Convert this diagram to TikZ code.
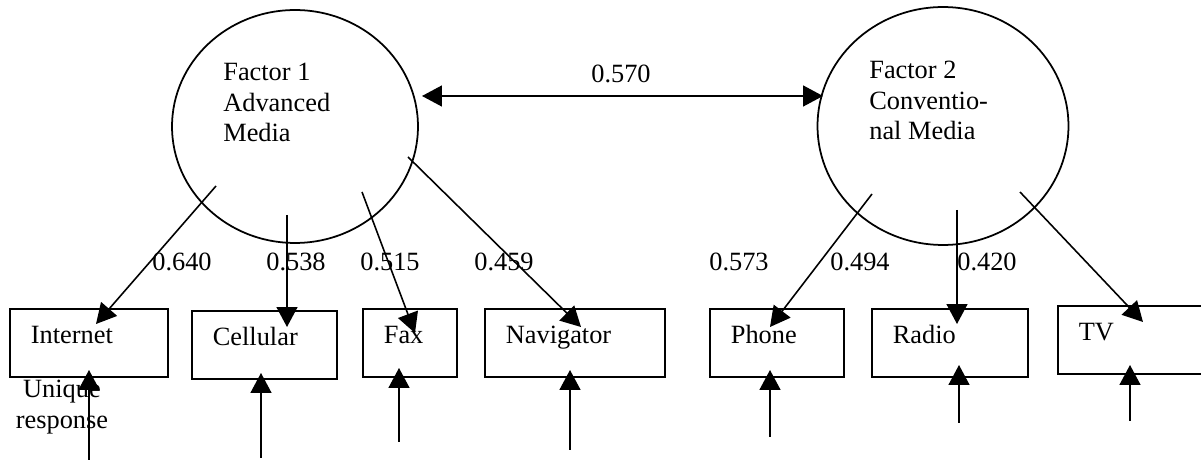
\documentclass[tikz,border=0pt]{standalone}
\usepackage{fontspec}
\setmainfont{Liberation Serif}
\usetikzlibrary{calc,arrows.meta,shapes.geometric}

\tikzset{
  every node/.style={font=\fontsize{15}{17.3}\selectfont, inner sep=0pt},
  factor/.style={draw, ellipse, line width=1pt},
  factortext/.style={anchor=north west, align=left},
  item/.style={draw, rectangle, line width=1pt, anchor=north west,
    inner xsep=0.42cm, inner ysep=0pt, text height=0.70cm, text depth=0.66cm, align=left},
  load/.style={line width=0.9pt, -{Triangle[length=0.4cm,width=0.42cm]}},
  corr/.style={line width=0.9pt, {Triangle[length=0.4cm,width=0.42cm]}-{Triangle[length=0.4cm,width=0.42cm]}},
}

\begin{document}
\begin{tikzpicture}[x=0.02cm, y=-0.02cm]
  \fill[white] (0,0) rectangle (1201,462);
  \useasboundingbox (0,0) rectangle (1201,462);

  % latent factors
  \node[factor, minimum width=4.92cm, minimum height=4.66cm] (f1) at (295,126.5) {};
  \node[factor, minimum width=5.02cm, minimum height=4.76cm] (f2) at (943,126) {};
  \node[factortext] (f1text) at (223,63) {Factor 1\\Advanced\\Media};
  \node[factortext] (f2text) at (869,61) {Factor 2\\Conventio-\\nal Media};

  % correlation between the factors
  \coordinate (c1) at (422,96);
  \coordinate (c2) at (823,96);
  \draw[corr] (c1) -- (c2);
  \node[anchor=base] (r12) at (621,83) {0.570};

  % observed items
  \node[item, text width=2.32cm] (internet) at (9,308) {Internet};
  \node[item, text width=2.06cm] (cellular) at (191,310) {Cellular};
  \node[item, text width=1.04cm] (fax) at (362,308) {Fax};
  \node[item, text width=2.76cm] (navigator) at (484,308) {Navigator};
  \node[item, text width=1.84cm] (phone) at (709,308) {Phone};
  \node[item, text width=2.28cm] (radio) at (871,308) {Radio};
  \node[item, text width=2.40cm] (tv) at (1057,305) {TV};

  % loadings
  \coordinate (f1-internet) at (216,186);
  \coordinate (f1-cellular) at (287,215);
  \coordinate (f1-fax) at (362,192);
  \coordinate (f1-navigator) at (408,157);
  \coordinate (f2-phone) at (872,194);
  \coordinate (f2-radio) at (957,210);
  \coordinate (f2-tv) at (1020,192);
  \coordinate (internet-in) at (96,324);
  \coordinate (cellular-in) at (287,327);
  \coordinate (fax-in) at (415,333);
  \coordinate (navigator-in) at (581,327);
  \coordinate (phone-in) at (770,327);
  \coordinate (radio-in) at (957,324);
  \coordinate (tv-in) at (1143,322);

  \draw[load] (f1-internet) -- (internet-in);
  \draw[load] (f1-cellular) -- (cellular-in);
  \draw[load] (f1-fax) -- (fax-in);
  \draw[load] (f1-navigator) -- (navigator-in);
  \draw[load] (f2-phone) -- (phone-in);
  \draw[load] (f2-radio) -- (radio-in);
  \draw[load] (f2-tv) -- (tv-in);

  \node[anchor=base west] (l-internet) at (152,271) {0.640};
  \node[anchor=base west] (l-cellular) at (266,271) {0.538};
  \node[anchor=base west] (l-fax) at (360,271) {0.515};
  \node[anchor=base west] (l-navigator) at (474,271) {0.459};
  \node[anchor=base west] (l-phone) at (709,271) {0.573};
  \node[anchor=base west] (l-radio) at (830,271) {0.494};
  \node[anchor=base west] (l-tv) at (957,271) {0.420};

  % unique responses
  \node[align=center, anchor=north] (unique) at (62,380) {Unique\\response};
  \coordinate (e-internet) at (89,460);
  \coordinate (e-cellular) at (261,458);
  \coordinate (e-fax) at (399,442);
  \coordinate (e-navigator) at (570,450);
  \coordinate (e-phone) at (770,437);
  \coordinate (e-radio) at (959,423);
  \coordinate (e-tv) at (1130,421);
  \coordinate (internet-out) at (89,370);
  \coordinate (cellular-out) at (261,373);
  \coordinate (fax-out) at (399,368);
  \coordinate (navigator-out) at (570,370);
  \coordinate (phone-out) at (770,370);
  \coordinate (radio-out) at (959,365);
  \coordinate (tv-out) at (1130,365);

  \draw[load] (e-internet) -- (internet-out);
  \draw[load] (e-cellular) -- (cellular-out);
  \draw[load] (e-fax) -- (fax-out);
  \draw[load] (e-navigator) -- (navigator-out);
  \draw[load] (e-phone) -- (phone-out);
  \draw[load] (e-radio) -- (radio-out);
  \draw[load] (e-tv) -- (tv-out);
\end{tikzpicture}
\end{document}
